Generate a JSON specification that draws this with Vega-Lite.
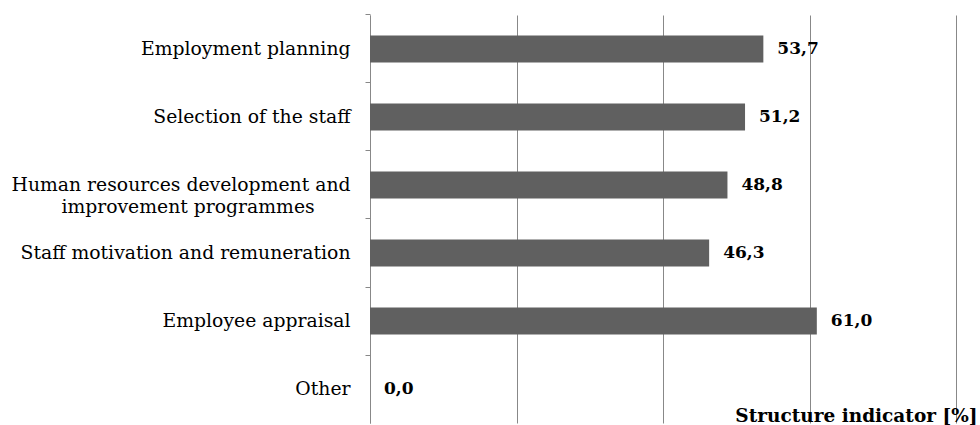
{
  "$schema": "https://vega.github.io/schema/vega-lite/v6.json",
  "autosize": {"type": "none"},
  "width": 586,
  "height": 408,
  "padding": {"left": 370, "top": 15, "right": 24, "bottom": 2},
  "background": "white",
  "config": {
    "view": {"stroke": null},
    "locale": {"number": {"decimal": ",", "thousands": ".", "grouping": [3], "currency": ["", " €"]}},
    "font": "DejaVu Serif"
  },
  "data": {
    "values": [
      {"category": "Employment planning", "value": 53.7},
      {"category": "Selection of the staff", "value": 51.2},
      {"category": "Human resources development and|improvement programmes\u2007\u2007\u2007\u200b", "value": 48.8},
      {"category": "Staff motivation and remuneration", "value": 46.3},
      {"category": "Employee appraisal", "value": 61.0},
      {"category": "Other", "value": 0.0}
    ]
  },
  "encoding": {
    "y": {
      "field": "category",
      "type": "nominal",
      "sort": null,
      "scale": {"paddingInner": 0.6, "paddingOuter": 0.3},
      "axis": {
        "title": null,
        "labelExpr": "split(datum.label, '|')",
        "labelFont": "DejaVu Serif",
        "labelFontSize": 18.8,
        "labelColor": "#000000",
        "labelPadding": 15,
        "labelLimit": 400,
        "labelLineHeight": 22,
        "bandPosition": -0.75,
        "tickSize": 5,
        "tickColor": "#888888",
        "domainColor": "#888888",
        "ticks": true,
        "grid": false
      }
    },
    "x": {
      "field": "value",
      "type": "quantitative",
      "scale": {"domain": [0, 80], "nice": false},
      "axis": {
        "values": [0, 20, 40, 60, 80],
        "labels": false,
        "ticks": false,
        "domain": false,
        "grid": true,
        "gridColor": "#888888",
        "gridWidth": 1,
        "title": "Structure indicator [%]",
        "titleFont": "DejaVu Serif",
        "titleFontSize": 18.5,
        "titleFontWeight": "bold",
        "titleColor": "#000000",
        "titleAnchor": "end",
        "titleAlign": "right",
        "titleBaseline": "alphabetic",
        "titleX": 607,
        "titleY": -2
      }
    }
  },
  "layer": [
    {"mark": {"type": "bar", "color": "#606060"}},
    {
      "mark": {"type": "text", "align": "left", "baseline": "middle", "dx": 14, "font": "DejaVu Serif", "fontSize": 17, "fontWeight": "bold", "color": "#000000"},
      "encoding": {"text": {"field": "value", "type": "quantitative", "format": ".1f"}}
    }
  ]
}
